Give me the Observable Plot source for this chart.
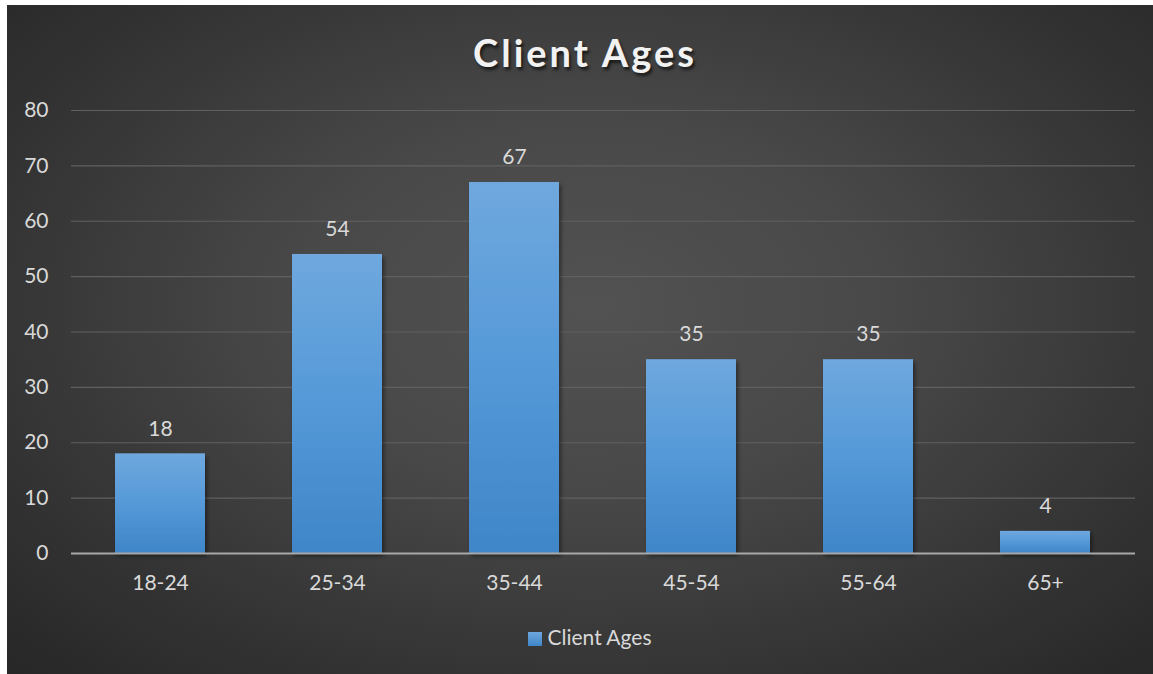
<!DOCTYPE html>
<html>
<head>
<meta charset="utf-8">
<script src="https://cdn.jsdelivr.net/npm/d3@7"></script>
<script src="https://cdn.jsdelivr.net/npm/@observablehq/plot@0.6"></script>
<style>
  html, body { margin: 0; padding: 0; background: #ffffff; }
  #panel {
    position: absolute; left: 7px; top: 5px; width: 1146px; height: 669px;
    background: radial-gradient(ellipse 75% 80% at 51% 45%, #525252 0%, #484848 35%, #343434 70%, #252525 100%);
    font-family: Lato, "Open Sans", sans-serif; overflow: hidden;
  }
  #title {
    position: absolute; left: 5px; top: 24px; width: 100%; text-align: center;
    font-size: 38px; font-weight: 700; color: #f2f2f2; letter-spacing: 3px;
    text-shadow: 2px 3px 3px rgba(0,0,0,0.6);
  }
  #chart { position: absolute; left: 0; top: 85px; }
  #legend {
    position: absolute; left: 10px; top: 619px; width: 100%; text-align: center;
    font-size: 21px; color: #d9d9d9;
  }
  #legend .sw { display: inline-block; width: 14px; height: 14px; margin-right: 5px;
    background: linear-gradient(#6ea6dd, #3f87c9); vertical-align: -1px; }
</style>
</head>
<body>
<div id="panel">
  <div id="title">Client Ages</div>
  <div id="chart"></div>
  <div id="legend"><span class="sw"></span>Client Ages</div>
</div>
<script>
const categories = ["18-24", "25-34", "35-44", "45-54", "55-64", "65+"];
const clientAges = [18, 54, 67, 35, 35, 4];
const yTicks = [0, 10, 20, 30, 40, 50, 60, 70, 80];

const data = categories.map((c, i) => ({category: c, value: clientAges[i]}));

const gradientDefs = () => {
  const ns = "http://www.w3.org/2000/svg";
  const g = document.createElementNS(ns, "g");
  g.innerHTML = `<defs>
    <linearGradient id="barGrad" x1="0" y1="0" x2="0" y2="1">
      <stop offset="0%" stop-color="#6fa8de"/>
      <stop offset="50%" stop-color="#5599d8"/>
      <stop offset="100%" stop-color="#3f86c8"/>
    </linearGradient>
    <filter id="shadow" x="-10%" y="-10%" width="130%" height="130%">
      <feDropShadow dx="2" dy="3" stdDeviation="2" flood-color="#000" flood-opacity="0.45"/>
    </filter>
  </defs>`;
  return g;
};

const chart = Plot.plot({
  width: 1146,
  height: 513,
  marginTop: 20,
  marginBottom: 50,
  marginLeft: 64,
  marginRight: 18,
  style: {background: "transparent", fontFamily: "Lato, 'Open Sans', sans-serif", fontSize: "21px", color: "#d9d9d9"},
  x: {domain: categories, paddingInner: 0.49, paddingOuter: 0.245, label: null, tickSize: 0, tickPadding: 22},
  y: {domain: [0, 80], ticks: yTicks, label: null, tickSize: 0, tickPadding: 23},
  marks: [
    gradientDefs,
    Plot.gridY(yTicks.filter(t => t > 0), {stroke: "#606060", strokeOpacity: 1, strokeWidth: 1.2}),
    Plot.barY(data, {x: "category", y: "value", fill: "url(#barGrad)"}),
    Plot.ruleY([0], {stroke: "#a8a8a8", strokeWidth: 2}),
    Plot.text(data, {x: "category", y: "value", text: d => String(d.value), dy: -25, fill: "#d9d9d9", fontSize: 21})
  ]
});
chart.querySelectorAll("g[aria-label='bar'] rect").forEach(r => r.setAttribute("filter", "url(#shadow)"));
document.getElementById("chart").appendChild(chart);
</script>
</body>
</html>
